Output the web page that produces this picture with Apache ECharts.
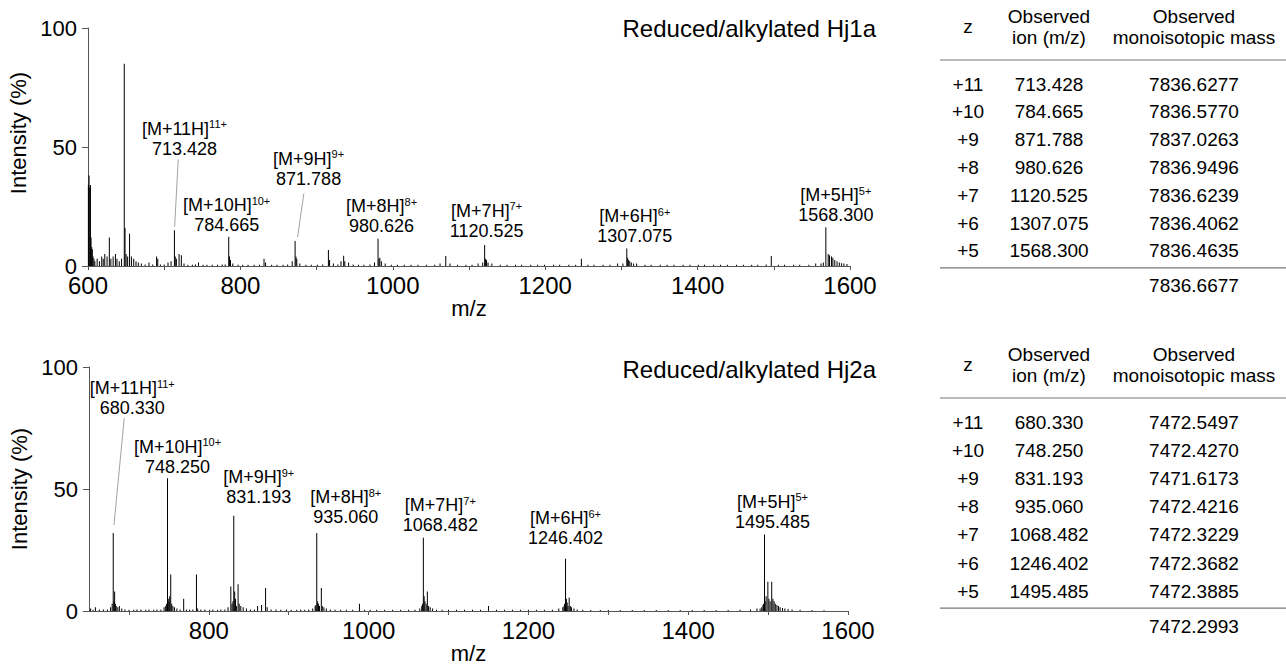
<!DOCTYPE html>
<html>
<head>
<meta charset="utf-8">
<script src="https://cdn.jsdelivr.net/npm/echarts@6/dist/echarts.min.js"></script>
<style>
html,body{margin:0;padding:0;background:#fff;}
#chart{width:1286px;height:666px;}
</style>
</head>
<body>
<div id="chart"></div>
<script>
// ---------------- DATA ----------------
const hj1aTitle = 'Reduced/alkylated Hj1a';
const hj2aTitle = 'Reduced/alkylated Hj2a';

const hj1aTicks = [600, 700, 800, 900, 1000, 1100, 1200, 1300, 1400, 1500, 1600];
const hj1aTickLabels = [600, 800, 1000, 1200, 1400, 1600];
const hj2aTicks = [700, 800, 900, 1000, 1100, 1200, 1300, 1400, 1500, 1600];
const hj2aTickLabels = [800, 1000, 1200, 1400, 1600];
const intensityTicks = [0, 50, 100];

const ionLabels = ['[M+11H]', '[M+10H]', '[M+9H]', '[M+8H]', '[M+7H]', '[M+6H]', '[M+5H]'];
const ionCharges = ['11+', '10+', '9+', '8+', '7+', '6+', '5+'];
const chargeStates = ['+11', '+10', '+9', '+8', '+7', '+6', '+5'];
const tableHeaders = ['z', 'Observed\nion (m/z)', 'Observed\nmonoisotopic mass'];

const hj1aIonMz = [713.428, 784.665, 871.788, 980.626, 1120.525, 1307.075, 1568.300];
const hj1aIonMzText = ['713.428', '784.665', '871.788', '980.626', '1120.525', '1307.075', '1568.300'];
const hj1aIonIntensity = [15.0, 12.3, 10.5, 11.5, 8.8, 7.4, 16.3];
const hj1aMonoMass = ['7836.6277', '7836.5770', '7837.0263', '7836.9496', '7836.6239', '7836.4062', '7836.4635'];
const hj1aMeanMass = '7836.6677';

const hj2aIonMz = [680.330, 748.250, 831.193, 935.060, 1068.482, 1246.402, 1495.485];
const hj2aIonMzText = ['680.330', '748.250', '831.193', '935.060', '1068.482', '1246.402', '1495.485'];
const hj2aIonIntensity = [32.0, 54.4, 39.0, 32.0, 30.0, 21.4, 31.4];
const hj2aMonoMass = ['7472.5497', '7472.4270', '7471.6173', '7472.4216', '7472.3229', '7472.3682', '7472.3885'];
const hj2aMeanMass = '7472.2993';

// other (unlabelled) peaks: [m/z, intensity %]
const hj1aOtherPeaks = [
  [600.5, 34], [601.4, 38], [602.3, 33], [603.2, 34], [604.0, 12], [604.8, 8], [605.7, 7], [606.6, 4], [607.8, 3], [609, 2],
  [612, 3], [615, 2], [618, 4], [620, 3], [622, 5], [625, 4], [628, 12], [630, 3], [633, 4], [636, 5], [638, 3], [641, 2], [644, 3],
  [647.6, 85], [648.6, 16], [650, 5], [652, 4], [654.5, 13.5], [657, 4], [660, 3], [663, 2], [666, 1.5], [670, 1], [675, 0.6],
  [680, 1.5], [685, 0.6], [690, 4], [691.5, 3], [695, 0.6], [700, 0.6], [705, 1.5], [709, 2], [714.5, 4], [716, 3], [719.5, 5],
  [722.5, 4.5], [726, 1], [731, 0.5], [737, 0.5], [741, 0.6], [745, 1.5], [751, 0.5], [756, 0.5], [763, 0.5], [770, 0.5], [776, 0.6], [780, 0.6],
  [785.7, 4], [787, 2.5], [790, 1], [797, 0.5], [803, 0.5], [810, 0.5], [818, 0.5], [825, 0.5], [831, 3], [833, 1.5], [841, 0.5], [848, 0.5],
  [856, 0.5], [862, 0.6], [868, 2], [872.9, 4], [874, 3], [878, 1], [886, 0.5], [893, 0.5], [901, 0.5], [908, 0.6], [915.5, 6.7], [917, 2.5],
  [922, 1], [928, 0.6], [932, 2], [935.5, 4.3], [937, 2], [942, 1.5], [948, 0.6], [955, 0.5], [962, 0.5], [970, 0.6], [976, 1.5],
  [981.8, 3], [983, 3.5], [985, 2], [990, 1], [998, 0.5], [1006, 0.5], [1015, 0.5], [1024, 0.5], [1033, 0.5], [1044, 0.5],
  [1055, 0.5], [1062, 1], [1069.5, 4.2], [1075, 1], [1085, 0.5], [1096, 0.5], [1104, 0.5], [1112, 1], [1118, 1.5],
  [1121.8, 3], [1123, 2.5], [1125, 1.5], [1130, 1], [1141, 0.5], [1150, 0.5], [1161, 0.5], [1169, 0.5], [1181, 0.5],
  [1190, 0.5], [1199, 0.5], [1211, 0.5], [1219, 0.5], [1231, 0.5], [1240, 0.5], [1247.5, 3], [1256, 0.5], [1264, 0.5],
  [1276, 0.5], [1285, 0.5], [1295, 1], [1302, 1], [1308.2, 3.5], [1309.5, 2.5], [1311, 2], [1313, 1.5], [1316, 1], [1320, 1],
  [1331, 0.5], [1339, 0.5], [1351, 0.5], [1360, 0.5], [1369, 0.5], [1381, 0.5], [1390, 0.5], [1401, 0.5], [1409, 0.5],
  [1421, 0.5], [1430, 0.5], [1439, 0.5], [1451, 0.5], [1460, 0.5], [1471, 0.5], [1479, 0.5], [1490, 0.6], [1496.7, 4.2],
  [1506, 0.5], [1514, 0.5], [1526, 0.5], [1534, 0.5], [1546, 0.5], [1555, 1], [1562, 1], [1565, 1.5], [1571.4, 5],
  [1573.1, 4.5], [1575.7, 4], [1577.5, 3.5], [1580, 2.5], [1583, 2], [1586, 1.5], [1589, 1.2], [1592, 1], [1596, 0.8]
];

const hj2aOtherPeaks = [
  [652, 1], [655, 0.5], [658, 1.5], [663, 0.6], [668, 0.6], [673, 0.6], [677, 1.5], [679, 3], [681.2, 4], [682.1, 8], [683, 3],
  [684, 2], [686, 1.5], [688, 2], [691, 1], [695, 0.6], [700, 0.5], [706, 0.5], [710, 0.6], [715, 0.6], [721, 0.5], [725, 0.6],
  [731, 0.5], [735, 0.6], [740, 0.6], [744, 1.5], [746, 2], [747.2, 3], [749.2, 5], [750.1, 4], [751, 6], [752.3, 15], [753.5, 3],
  [755, 2], [757, 1.5], [760, 1], [764, 0.6], [768.5, 5], [772, 0.6], [776, 0.6], [780, 0.6], [784.5, 15], [786, 1], [790, 0.6],
  [795, 0.6], [801, 0.5], [805, 0.6], [811, 0.5], [815, 0.6], [820, 0.6], [824, 1.5], [827.5, 10], [829, 3], [830.2, 4], [832.3, 8],
  [833.4, 5], [834.5, 2], [836.6, 11], [838, 3], [840, 2], [843, 1.5], [847, 1], [852, 0.6], [857, 0.6], [861, 2], [866, 2.5],
  [871, 9.4], [873, 1.5], [878, 0.6], [884, 0.6], [890, 0.5], [897, 0.6], [903, 0.5], [910, 0.5], [915, 0.6], [920, 0.5], [925, 0.6],
  [930, 1], [933, 2], [934, 2.5], [936.2, 4], [937.3, 3], [938.5, 2], [940.8, 9.4], [942, 2], [944, 1.5], [947, 1], [952, 0.6],
  [958, 0.5], [965, 0.5], [972, 0.5], [980, 0.5], [988.5, 3], [995, 0.5], [1002, 0.5], [1010, 0.5], [1020, 0.5], [1030, 0.5],
  [1040, 0.5], [1050, 0.5], [1058, 0.5], [1064, 1], [1066.5, 2], [1067.3, 3], [1069.5, 6], [1070.5, 4], [1072, 3],
  [1073.5, 8], [1075, 2], [1077, 1.5], [1080, 1], [1085, 0.5], [1092, 0.5], [1100, 0.5], [1110, 0.5], [1120, 0.5],
  [1130, 0.5], [1140, 0.5], [1150, 2], [1160, 0.5], [1170, 0.5], [1180, 0.5], [1190, 0.5], [1200, 0.5], [1210, 0.5],
  [1220, 0.5], [1230, 0.5], [1238, 1], [1243, 1.5], [1244.5, 2], [1245.3, 3], [1247.5, 5], [1248.5, 3.5], [1249.6, 2],
  [1251, 5.5], [1252.5, 2], [1254, 1.5], [1257, 1], [1261, 0.6], [1268, 0.5], [1278, 0.4], [1290, 0.4], [1300, 0.4],
  [1315, 0.4], [1330, 0.4], [1345, 0.4], [1360, 0.4], [1375, 0.4], [1390, 0.4], [1405, 0.4], [1420, 0.4], [1435, 0.4],
  [1450, 0.4], [1465, 0.5], [1478, 0.6], [1486, 1], [1490, 1], [1492, 1.5], [1493.5, 2.5], [1494.4, 3], [1496.3, 4],
  [1497.5, 6], [1499.7, 12], [1501, 5], [1502.5, 4], [1504.5, 12], [1506, 5], [1507.5, 4], [1509, 3], [1511, 2.5],
  [1513, 2], [1515, 1.5], [1518, 1.2], [1521, 1], [1525, 0.8], [1530, 0.6], [1540, 0.5], [1555, 0.4], [1570, 0.3]
];

// ---------------- LAYOUT (label placement in px, leader lines in data space) ----------------
const hj1aLabelOffset = [[10, -71.5], [-2, -1.5], [13.5, -52.5], [3.5, -2.5], [2, -4.5], [8, -2], [10, -2]];
const hj2aLabelOffset = [[19, -114.5], [10, -1.5], [25, -8.5], [29, -5.5], [17, -2.5], [0, -10.5], [8, -2.5]];
const hj1aLeaders = [[[718.4, 44.8], [713.7, 16.5]], [[883.3, 30.5], [875.0, 12.1]]];
const hj2aLeaders = [[[694.1, 79.0], [681.25, 35.2]]];

const FONT = '"Liberation Sans", Arial, Helvetica, sans-serif';
const TXT = '#000';
const AXIS = '#555';

function spectrum(other, mz, inten) {
  return other.concat(mz.map((m, i) => [m, inten[i]])).sort((a, b) => a[0] - b[0]);
}

function xAxisFor(grid, min, max, ticks, labels, nameGap) {
  return {
    type: 'value', gridIndex: grid, min: min, max: max,
    axisLine: { show: true, onZero: false, lineStyle: { color: AXIS, width: 1 } },
    axisTick: { show: true, inside: false, length: 4, customValues: ticks, lineStyle: { color: AXIS } },
    axisLabel: { customValues: labels, fontSize: 24, lineHeight: 22, color: TXT, fontFamily: FONT, margin: 8,
      formatter: v => String(v) },
    splitLine: { show: false },
    name: 'm/z', nameLocation: 'middle', nameGap: nameGap,
    nameTextStyle: { fontSize: 22, color: TXT, fontFamily: FONT }
  };
}
function yAxisFor(grid, pad) {
  return {
    type: 'value', gridIndex: grid, min: 0, max: 100,
    axisLine: { show: true, lineStyle: { color: AXIS, width: 1 } },
    axisTick: { show: true, inside: false, length: 6, customValues: intensityTicks, lineStyle: { color: AXIS } },
    axisLabel: { customValues: intensityTicks, fontSize: 22, lineHeight: 16, color: TXT, fontFamily: FONT, margin: 11,
      formatter: v => String(v) },
    splitLine: { show: false },
    name: 'Intensity (%)', nameLocation: 'middle', nameGap: 49, nameRotate: 90,
    nameTextStyle: { fontSize: 22, color: TXT, fontFamily: FONT, padding: pad }
  };
}

const rich = {
  a: { fontSize: 18, lineHeight: 20, color: TXT, fontFamily: FONT },
  s: { fontSize: 11, lineHeight: 15, color: TXT, fontFamily: FONT, verticalAlign: 'top' }
};

function annotations(grid, mz, inten, mzText, offsets) {
  return {
    type: 'scatter', xAxisIndex: grid, yAxisIndex: grid, symbol: 'circle', symbolSize: 0.01, silent: true,
    itemStyle: { color: '#000', opacity: 1 }, z: 5,
    data: mz.map((m, i) => ({
      value: [m, inten[i]],
      label: {
        show: true, position: 'top', distance: 0, offset: offsets[i], align: 'center', color: TXT,
        formatter: '{a|' + ionLabels[i] + '}{s|' + ionCharges[i] + '}\n{a|' + mzText[i] + '}',
        rich: rich
      }
    }))
  };
}
function leaderSeries(grid, leaders) {
  return leaders.map(l => ({
    type: 'line', xAxisIndex: grid, yAxisIndex: grid, data: l, symbol: 'none', silent: true,
    lineStyle: { color: '#8a8a8a', width: 0.8 }, z: 4
  }));
}
function stickSeries(grid, data) {
  return {
    type: 'bar', xAxisIndex: grid, yAxisIndex: grid, data: data, barWidth: 1, silent: true,
    itemStyle: { color: '#000' }, barGap: '-100%'
  };
}

function textEl(str, x, y, size, align) {
  return { type: 'text', silent: true, style: {
    text: str, x: x, y: y, fill: TXT, fontSize: size, fontFamily: FONT,
    textAlign: align || 'center', textVerticalAlign: 'middle', lineHeight: 21 } };
}
function ruleEl(x1, x2, y) {
  return { type: 'line', silent: true, shape: { x1: x1, y1: y, x2: x2, y2: y },
    style: { stroke: '#777', lineWidth: 1.2 } };
}
function tableEls(top, rowStep, ionText, mono, mean) {
  const colX = [968, 1049, 1194];
  const els = [];
  els.push(textEl(tableHeaders[0], colX[0], top + 9, 19));
  els.push(textEl(tableHeaders[1], colX[1], top + 10, 19));
  els.push(textEl(tableHeaders[2], colX[2], top + 10, 19));
  els.push(ruleEl(940, 1286, top + 43));
  chargeStates.forEach((z, i) => {
    const y = top + 67 + i * rowStep;
    els.push(textEl(z, colX[0], y, 19));
    els.push(textEl(ionText[i], colX[1], y, 19));
    els.push(textEl(mono[i], colX[2], y, 19));
  });
  const ruleY = top + 67 + 6 * rowStep + 17;
  els.push(ruleEl(940, 1286, ruleY));
  els.push(textEl(mean, colX[2], ruleY + 18, 19));
  return els;
}

const chart = echarts.init(document.getElementById('chart'), null, { renderer: 'svg' });
chart.setOption({
  animation: false,
  backgroundColor: '#fff',
  grid: [
    { left: 88, top: 28, width: 762, height: 238, outerBoundsMode: 'none' },
    { left: 89, top: 367, width: 759, height: 244, outerBoundsMode: 'none' }
  ],
  xAxis: [
    xAxisFor(0, 600, 1600, hj1aTicks, hj1aTickLabels, 21),
    xAxisFor(1, 650, 1600, hj2aTicks, hj2aTickLabels, 30)
  ],
  yAxis: [yAxisFor(0, [0, 0, 0, 28]), yAxisFor(1, 0)],
  series: [
    stickSeries(0, spectrum(hj1aOtherPeaks, hj1aIonMz, hj1aIonIntensity)),
    stickSeries(1, spectrum(hj2aOtherPeaks, hj2aIonMz, hj2aIonIntensity)),
    annotations(0, hj1aIonMz, hj1aIonIntensity, hj1aIonMzText, hj1aLabelOffset),
    annotations(1, hj2aIonMz, hj2aIonIntensity, hj2aIonMzText, hj2aLabelOffset)
  ].concat(leaderSeries(0, hj1aLeaders), leaderSeries(1, hj2aLeaders)),
  graphic: [
    textEl(hj1aTitle, 876, 28, 24, 'right'),
    textEl(hj2aTitle, 876, 369, 24, 'right')
  ].concat(
    tableEls(17, 27.8, hj1aIonMzText, hj1aMonoMass, hj1aMeanMass),
    tableEls(355, 28.2, hj2aIonMzText, hj2aMonoMass, hj2aMeanMass)
  )
});
</script>
</body>
</html>
